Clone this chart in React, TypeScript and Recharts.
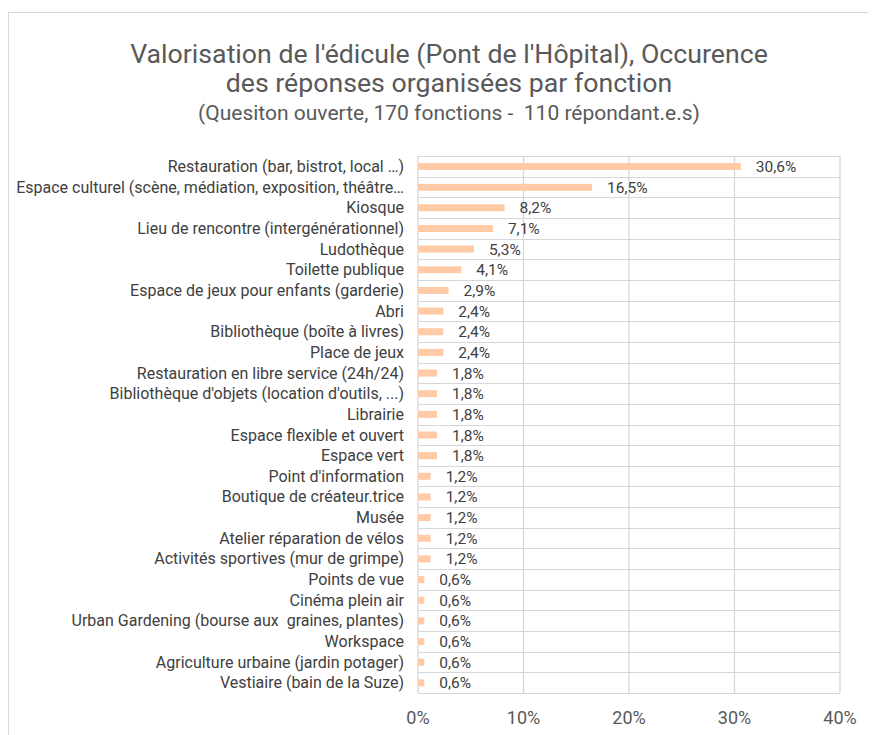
import React from 'react';
import { BarChart, Bar, XAxis, YAxis, CartesianGrid, LabelList } from 'recharts';

const categories = [
  'Restauration (bar, bistrot, local …)',
  'Espace culturel (scène, médiation, exposition, théâtre…',
  'Kiosque',
  'Lieu de rencontre (intergénérationnel)',
  'Ludothèque',
  'Toilette publique',
  'Espace de jeux pour enfants (garderie)',
  'Abri',
  'Bibliothèque (boîte à livres)',
  'Place de jeux',
  'Restauration en libre service (24h/24)',
  "Bibliothèque d'objets (location d'outils, ...)",
  'Librairie',
  'Espace flexible et ouvert',
  'Espace vert',
  "Point d'information",
  'Boutique de créateur.trice',
  'Musée',
  'Atelier réparation de vélos',
  'Activités sportives (mur de grimpe)',
  'Points de vue',
  'Cinéma plein air',
  'Urban Gardening (bourse aux  graines, plantes)',
  'Workspace',
  'Agriculture urbaine (jardin potager)',
  'Vestiaire (bain de la Suze)',
];

const values = [
  30.6, 16.5, 8.2, 7.1, 5.3, 4.1, 2.9, 2.4, 2.4, 2.4,
  1.8, 1.8, 1.8, 1.8, 1.8, 1.2, 1.2, 1.2, 1.2, 1.2,
  0.6, 0.6, 0.6, 0.6, 0.6, 0.6,
];

const xTicks = [0, 10, 20, 30, 40];

const titleLines = [
  "Valorisation de l'édicule (Pont de l'Hôpital), Occurence",
  'des réponses organisées par fonction',
];
const subtitle = '(Quesiton ouverte, 170 fonctions -  110 répondant.e.s)';

const data = categories.map((name, i) => ({ name, value: values[i] }));

const fmtLabel = (v: any) => `${Number(v).toFixed(1).replace('.', ',')}%`;
const FONT = 'Roboto, "Noto Sans", sans-serif';
const GRID = '#d6d6d6';
const W = 868;
const H = 723;
const MARGIN = { top: 144, right: 36, bottom: 0, left: 0 };
const X_AXIS_H = 42;
const Y_AXIS_W = 410;
const TICK_MARGIN = 14;

// layout-derived plot geometry (used only to extend the row separators across the plot)
const PLOT_W = W - MARGIN.left - MARGIN.right - Y_AXIS_W;
const HALF_BAND = (H - MARGIN.top - MARGIN.bottom - X_AXIS_H) / categories.length / 2;
const crisp = (v: number) => Math.round(v) + 0.5;

const CategoryTick = (props: any) => {
  const { x, y, payload, index } = props;
  const x1 = x + TICK_MARGIN;
  const x2 = x1 + PLOT_W;
  const isLast = index === categories.length - 1;
  const yTop = crisp(y - HALF_BAND);
  const yBottom = crisp(y + HALF_BAND);
  return (
    <g>
      <line
        x1={x1}
        x2={x2}
        y1={yTop}
        y2={yTop}
        stroke={GRID}
        strokeWidth={1.5}
        shapeRendering="crispEdges"
      />
      {isLast && (
        <line
          x1={x1}
          x2={x2}
          y1={yBottom}
          y2={yBottom}
          stroke={GRID}
          strokeWidth={1.5}
          shapeRendering="crispEdges"
        />
      )}
      <text
        x={x}
        y={y}
        dy="0.355em"
        textAnchor="end"
        fill="#404040"
        fontSize={16}
        fontFamily={FONT}
        style={{ whiteSpace: 'pre' }}
      >
        {payload.value}
      </text>
    </g>
  );
};

export default function App() {
  return (
    <div style={{ position: 'relative', width: W, height: H, marginTop: 4, fontFamily: FONT }}>
      <BarChart width={W} height={H} data={data} layout="vertical" margin={MARGIN}>
        <CartesianGrid stroke={GRID} strokeWidth={1.3} horizontal={false} />
        <XAxis
          type="number"
          domain={[0, 40]}
          ticks={xTicks}
          tickFormatter={(v: number) => `${v}%`}
          axisLine={false}
          tickLine={false}
          height={X_AXIS_H}
          tickSize={6}
          tickMargin={12}
          tick={{ fill: '#595959', fontSize: 18, fontFamily: FONT }}
        />
        <YAxis
          type="category"
          dataKey="name"
          width={Y_AXIS_W}
          axisLine={false}
          tickLine={false}
          tickSize={0}
          tickMargin={TICK_MARGIN}
          interval={0}
          tick={<CategoryTick />}
        />
        <Bar dataKey="value" fill="#FFCAA5" barSize={7} isAnimationActive={false}>
          <LabelList
            dataKey="value"
            position="right"
            offset={15}
            formatter={fmtLabel}
            fill="#404040"
            fontSize={15.5}
            fontFamily={FONT}
          />
        </Bar>
      </BarChart>
      <svg
        width={W}
        height={140}
        style={{ position: 'absolute', left: 0, top: 0, pointerEvents: 'none' }}
      >
        <text x={441} y={51} textAnchor="middle" fill="#595959" fontSize={26.7} fontFamily={FONT}>
          {titleLines[0]}
        </text>
        <text x={441} y={80} textAnchor="middle" fill="#595959" fontSize={26.7} fontFamily={FONT}>
          {titleLines[1]}
        </text>
        <text
          x={441}
          y={108}
          textAnchor="middle"
          fill="#595959"
          fontSize={21}
          fontFamily={FONT}
          style={{ whiteSpace: 'pre' }}
        >
          {subtitle}
        </text>
      </svg>
      <div
        style={{
          position: 'absolute',
          left: 0,
          top: 0,
          width: W,
          height: H,
          borderTop: '1px solid #d9d9d9',
          borderLeft: '1px solid #d9d9d9',
          boxSizing: 'border-box',
          pointerEvents: 'none',
        }}
      />
    </div>
  );
}
